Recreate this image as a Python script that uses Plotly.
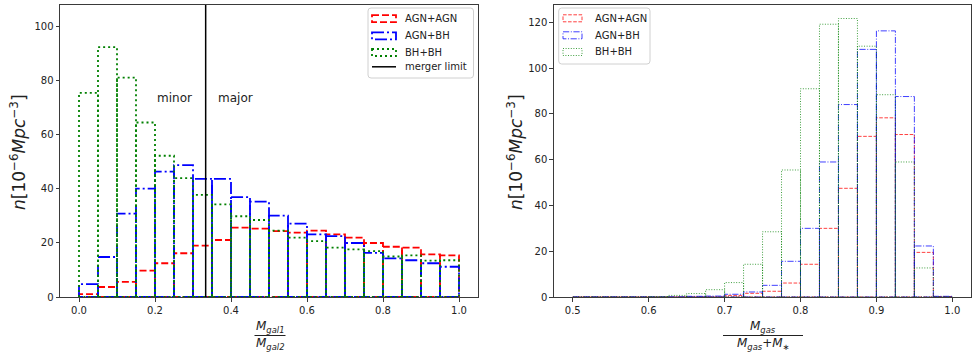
import plotly.graph_objects as go

W, H = 977, 353

# ---------------- data ----------------
series_names = ["AGN+AGN", "AGN+BH", "BH+BH"]

# left panel: mass ratio M_gal1/M_gal2, 20 bins of width 0.05 over [0, 1]
ratio_edges = [round(0.05 * i, 3) for i in range(21)]
ratio_agn_agn = [1.1, 3.7, 5.6, 9.8, 12.5, 16.2, 19.0, 21.1, 25.7, 25.3,
                 24.4, 23.8, 24.6, 23.2, 22.0, 20.0, 18.6, 18.3, 15.8, 15.4]
ratio_agn_bh = [4.8, 14.8, 30.9, 40.1, 46.4, 48.8, 43.7, 43.7, 37.0, 35.3,
                30.1, 27.2, 23.2, 22.5, 20.0, 16.3, 14.3, 13.6, 12.5, 11.2]
ratio_bh_bh = [75.6, 92.5, 81.2, 64.6, 52.3, 44.0, 37.8, 34.3, 29.9, 28.5,
               24.6, 22.0, 20.7, 18.3, 17.6, 17.0, 15.0, 15.4, 13.5, 13.6]
merger_limit = 1.0 / 3.0

# right panel: gas fraction, 20 bins of width 0.025 over [0.5, 1]
gas_edges = [round(0.5 + 0.025 * i, 4) for i in range(21)]
gas_agn_agn = [0, 0, 0, 0, 0, 0, 0, 0, 0.7, 1.6,
               2.5, 6.1, 14.3, 30.0, 47.5, 70.2, 78.3, 71.0, 19.5, 0.2]
gas_agn_bh = [0, 0, 0, 0, 0, 0, 0.3, 0.4, 1.2, 2.2,
              5.1, 15.6, 30.0, 59.0, 84.1, 108.2, 116.3, 87.6, 22.3, 0.3]
gas_bh_bh = [0, 0, 0, 0, 0.2, 0.7, 1.5, 3.2, 6.3, 14.3,
             28.5, 55.5, 91.0, 119.2, 121.7, 109.6, 88.4, 59.0, 12.7, 0]

left_xticks = [0.0, 0.2, 0.4, 0.6, 0.8, 1.0]
left_yticks = [0, 20, 40, 60, 80, 100]
right_xticks = [0.5, 0.6, 0.7, 0.8, 0.9, 1.0]
right_yticks = [0, 20, 40, 60, 80, 100, 120]

# ---------------- helpers ----------------
def px(x):
    return x / W

def py(y):
    return 1 - y / H

def outline(edges, heights):
    xs, ys = [], []
    for i, h in enumerate(heights):
        x0, x1 = edges[i], edges[i + 1]
        xs += [x0, x0, x1, x1, x0, None]
        ys += [0, h, h, 0, 0, None]
    return xs, ys

FONT = "DejaVu Sans"
TXT = "#222222"

left_styles = [
    dict(color="#ff0000", width=1.8, dash="7px,3px"),
    dict(color="#0000ff", width=1.8, dash="12px,3px,2px,3px"),
    dict(color="#008000", width=1.8, dash="2px,3px"),
]
right_styles = [
    dict(color="rgba(255,0,0,0.75)", width=1, dash="3.6px,1.6px"),
    dict(color="rgba(0,0,255,0.75)", width=1, dash="6.2px,1.6px,1px,1.6px"),
    dict(color="rgba(0,128,0,0.75)", width=1, dash="1px,1.6px"),
]

fig = go.Figure()

for name, vals, st in zip(series_names, [ratio_agn_agn, ratio_agn_bh, ratio_bh_bh], left_styles):
    xs, ys = outline(ratio_edges, vals)
    fig.add_trace(go.Scatter(x=xs, y=ys, mode="lines", line=st, name=name,
                             showlegend=False, xaxis="x", yaxis="y",
                             hoverinfo="skip"))

for name, vals, st in zip(series_names, [gas_agn_agn, gas_agn_bh, gas_bh_bh], right_styles):
    xs, ys = outline(gas_edges, vals)
    fig.add_trace(go.Scatter(x=xs, y=ys, mode="lines", line=st, name=name,
                             showlegend=False, xaxis="x2", yaxis="y2",
                             hoverinfo="skip"))

axis_common = dict(showline=True, mirror=True, linecolor="#3a3a3a", linewidth=1,
                   ticks="outside", ticklen=3.5, tickcolor="#3a3a3a", tickwidth=1,
                   showgrid=False, zeroline=False, automargin=False,
                   tickfont=dict(family=FONT, size=10, color=TXT))

y0, y1 = py(297), py(5)

fig.update_layout(
    template="none",
    width=W, height=H, autosize=False,
    margin=dict(l=0, r=0, t=0, b=0, pad=0),
    paper_bgcolor="white", plot_bgcolor="white",
    showlegend=False,
    xaxis=dict(domain=[px(60), px(478)], range=[-0.05, 1.05],
               tickvals=left_xticks, ticktext=[f"{v:.1f}" for v in left_xticks],
               anchor="y", **axis_common),
    yaxis=dict(domain=[y0, y1], range=[0, 108.1], tickvals=left_yticks,
               anchor="x", **axis_common),
    xaxis2=dict(domain=[px(553.8), px(971.3)], range=[0.475, 1.025],
                tickvals=right_xticks, ticktext=[f"{v:.1f}" for v in right_xticks],
                anchor="y2", **axis_common),
    yaxis2=dict(domain=[y0, y1], range=[0, 127.6], tickvals=right_yticks,
                anchor="x2", **axis_common),
)

shapes = []
annotations = []

# merger limit line
shapes.append(dict(type="line", xref="x", yref="y domain", x0=merger_limit, x1=merger_limit,
                   y0=0, y1=1, line=dict(color="black", width=1.5)))

annotations.append(dict(text="minor", xref="x", yref="y", x=0.2, y=73.5,
                        xanchor="left", yanchor="middle", showarrow=False,
                        font=dict(family=FONT, size=12, color=TXT)))
annotations.append(dict(text="major", xref="x", yref="y", x=0.36, y=73.5,
                        xanchor="left", yanchor="middle", showarrow=False,
                        font=dict(family=FONT, size=12, color=TXT)))

# y-axis titles
ylab = "<i>n</i>[10<sup>−6</sup><i>Mpc</i><sup>−3</sup>]"
for xc in (18, 515):
    annotations.append(dict(text=ylab, xref="paper", yref="paper", x=px(xc), y=py(152),
                            xanchor="center", yanchor="middle", textangle=-90,
                            showarrow=False, font=dict(family=FONT, size=17, color=TXT)))

# x-axis titles (fractions)
def fraction(xc, num, den, half):
    annotations.append(dict(text=num, xref="paper", yref="paper", x=px(xc), y=py(327),
                            xanchor="center", yanchor="middle", showarrow=False,
                            font=dict(family=FONT, size=12, color=TXT)))
    annotations.append(dict(text=den, xref="paper", yref="paper", x=px(xc), y=py(344),
                            xanchor="center", yanchor="middle", showarrow=False,
                            font=dict(family=FONT, size=12, color=TXT)))
    shapes.append(dict(type="line", xref="paper", yref="paper",
                       x0=px(xc - half), x1=px(xc + half), y0=py(335.5), y1=py(335.5),
                       line=dict(color=TXT, width=1)))

fraction(270, "<i>M</i><sub><i>gal1</i></sub>", "<i>M</i><sub><i>gal2</i></sub>", 15.5)
fraction(763, "<i>M</i><sub><i>gas</i></sub>",
         "<i>M</i><sub><i>gas</i></sub>+<i>M</i><sub>∗</sub>", 40)

# custom legends (patch-style handles like the original)
def rounded_box(xa, ya, xb, yb, r=3):
    return (f"M {px(xa + r)} {py(ya)} L {px(xb - r)} {py(ya)} "
            f"Q {px(xb)} {py(ya)} {px(xb)} {py(ya + r)} "
            f"L {px(xb)} {py(yb - r)} Q {px(xb)} {py(yb)} {px(xb - r)} {py(yb)} "
            f"L {px(xa + r)} {py(yb)} Q {px(xa)} {py(yb)} {px(xa)} {py(yb - r)} "
            f"L {px(xa)} {py(ya + r)} Q {px(xa)} {py(ya)} {px(xa + r)} {py(ya)} Z")

def legend(box, hx0, hx1, tx, rows, styles, with_line):
    shapes.append(dict(type="path", xref="paper", yref="paper",
                       path=rounded_box(*box), fillcolor="rgba(255,255,255,0.85)",
                       line=dict(color="#d0d0d0", width=1)))
    for (name, yc), st in zip(rows, styles):
        shapes.append(dict(type="rect", xref="paper", yref="paper",
                           x0=px(hx0), x1=px(hx1), y0=py(yc - 3.5), y1=py(yc + 3.5),
                           line=dict(color=st["color"], width=st["width"], dash=st["dash"]),
                           fillcolor="rgba(0,0,0,0)"))
        annotations.append(dict(text=name, xref="paper", yref="paper", x=px(tx), y=py(yc),
                                xanchor="left", yanchor="middle", showarrow=False,
                                font=dict(family=FONT, size=10, color=TXT)))
    if with_line:
        name, yc = with_line
        shapes.append(dict(type="line", xref="paper", yref="paper",
                           x0=px(hx0), x1=px(hx1), y0=py(yc), y1=py(yc),
                           line=dict(color="black", width=1.5)))
        annotations.append(dict(text=name, xref="paper", yref="paper", x=px(tx), y=py(yc),
                                xanchor="left", yanchor="middle", showarrow=False,
                                font=dict(family=FONT, size=10, color=TXT)))

legend((368, 8, 473.5, 78), 372, 396, 403,
       list(zip(series_names, [18.7, 35.8, 52.5])), left_styles,
       ("merger limit", 66.8))
legend((558.7, 8, 650, 64), 563, 582, 593,
       list(zip(series_names, [18.3, 35.3, 52.0])), right_styles, None)

fig.update_layout(shapes=shapes, annotations=annotations)

fig.write_html("out.html",
               config={"displayModeBar": False, "staticPlot": True},
               post_script="document.body.style.margin='0px';"
                           "document.body.style.padding='0px';"
                           "document.body.style.overflow='hidden';")
